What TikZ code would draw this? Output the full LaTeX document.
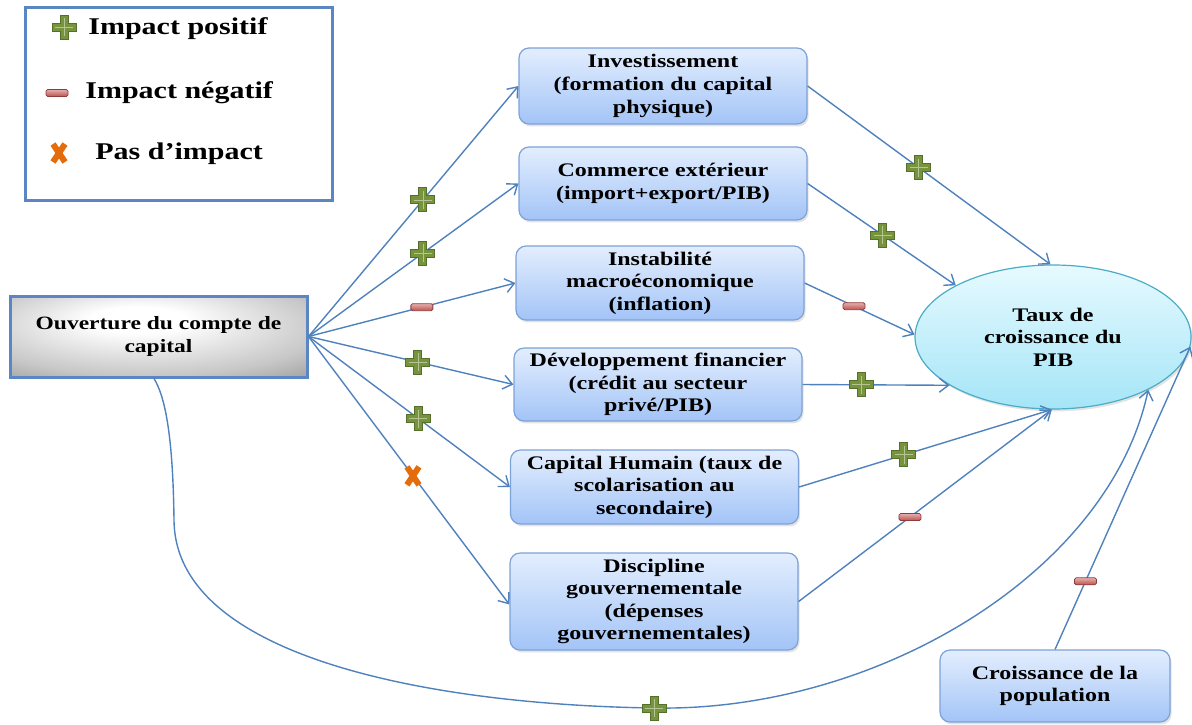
\documentclass[tikz,border=0pt]{standalone}
\usepackage{fontspec}
\setmainfont{Liberation Serif}[FakeStretch=1.25]
\usetikzlibrary{arrows.meta,shapes.geometric,shadows}
\definecolor{linkblue}{HTML}{4F81BD}
\definecolor{boxborder}{HTML}{7DA2D8}
\definecolor{boxtop}{HTML}{E3EEFE}
\definecolor{boxbot}{HTML}{A3C4F7}
\definecolor{pibtop}{HTML}{E6FAFF}
\definecolor{pibbot}{HTML}{A5E5F7}
\definecolor{pibborder}{HTML}{4BACC6}
\definecolor{plusgreen}{HTML}{77933C}
\definecolor{plusdark}{HTML}{55702A}
\definecolor{minusred}{HTML}{C0504D}
\definecolor{xorange}{HTML}{E46C0A}
\definecolor{frameblue}{HTML}{5B86C4}
\definecolor{ouvgray}{HTML}{8E8E8E}
\pgfdeclareradialshading{ouvshade}{\pgfpoint{-4bp}{12bp}}{%
  color(0bp)=(white); color(8bp)=(white); color(30bp)=(black!22); color(45bp)=(ouvgray); color(60bp)=(ouvgray!85!black)}
\tikzset{
  x=0.5pt, y=-0.5pt,
  conn/.style={draw=linkblue, line width=0.7pt, -{Straight Barb[length=4.5pt,width=7pt]}},
  txt/.style={font=\fontsize{9.6}{11.3}\selectfont\bfseries, align=center, text=black},
  legtxt/.style={font=\fontsize{12}{14}\selectfont\bfseries, anchor=west, inner sep=0pt},
  shadowed/.style={drop shadow={opacity=0.22, shadow xshift=0.8pt, shadow yshift=-1.2pt}},
  midbox/.style={txt, draw=boxborder, line width=0.6pt, rounded corners=5pt,
    top color=boxtop, bottom color=boxbot, inner sep=0pt, minimum width=144pt, shadowed},
  plussym/.pic={
    \draw[-, fill=plusgreen, draw=plusdark, line width=0.5pt]
      (-4,-12) -- (4,-12) -- (4,-4) -- (12,-4) -- (12,4) -- (4,4) -- (4,12)
      -- (-4,12) -- (-4,4) -- (-12,4) -- (-12,-4) -- (-4,-4) -- cycle;
    \draw[-, draw=plusgreen!55!white, line width=0.4pt] (0,-9) -- (0,9) (-9,0) -- (9,0);
  },
  minussym/.pic={
    \draw[-, draw=minusred!75!black, line width=0.4pt, top color=minusred!45!white,
      bottom color=minusred, rounded corners=0.8pt] (-11,-3.5) rectangle (11,3.5);
  },
  nosym/.pic={
    \draw[-, draw=xorange, line width=3pt] (-6,-9) -- (6,9) (-6,9) -- (6,-9);
  }
}
\begin{document}
\begin{tikzpicture}
\useasboundingbox (0,0) rectangle (1192,724);

% legend
\node[draw=frameblue, line width=1.5pt, minimum width=153.5pt, minimum height=96.5pt, inner sep=0pt] (leg) at (178.5,103.5) {};
\pic at (64,27) {plussym};
\pic at (57,93) {minussym};
\pic at (59,153) {nosym};
\node[legtxt] (lpos) at (88,29) {Impact positif};
\node[legtxt] (lneg) at (85,93) {Impact négatif};
\node[legtxt] (lnon) at (95,154) {Pas d’impact};

% source
\node[txt, font=\fontsize{9.4}{11.3}\selectfont\bfseries, draw=frameblue, line width=1.5pt,
  shading=ouvshade, minimum width=148.5pt, minimum height=40.5pt, inner sep=0pt]
  (ouv) at (158.5,336.5) {Ouverture du compte de\\capital};

% channels
\node[midbox, minimum height=38pt] (inv) at (663,86) {Investissement\\(formation du capital\\physique)};
\node[midbox, minimum height=36.5pt] (com) at (663,183.5) {Commerce extérieur\\(import+export/PIB)};
\node[midbox, minimum height=37pt] (ins) at (660,283) {Instabilité\\macroéconomique\\(inflation)};
\node[midbox, minimum height=36.5pt] (dev) at (658,384.5) {Développement financier\\(crédit au secteur\\privé/PIB)};
\node[midbox, minimum height=37pt] (cap) at (654.5,487) {Capital Humain (taux de\\scolarisation au\\secondaire)};
\node[midbox, minimum height=48.5pt] (dis) at (654,601.5) {Discipline\\gouvernementale\\(dépenses\\gouvernementales)};

% target
\node[txt, ellipse, draw=pibborder, line width=0.6pt, top color=pibtop, bottom color=pibbot,
  minimum width=138pt, minimum height=72pt, inner sep=0pt, shadowed]
  (pib) at (1053,337) {Taux de\\croissance du\\PIB};

\node[midbox, minimum width=115pt, minimum height=36pt] (pop) at (1055,686) {Croissance de la\\population};

% connectors from source
\draw[conn] (ouv.east) -- (inv.west);
\draw[conn] (ouv.east) -- (com.west);
\draw[conn] (ouv.east) -- (ins.west);
\draw[conn] (ouv.east) -- (dev.west);
\draw[conn] (ouv.east) -- (cap.west);
\draw[conn] (ouv.east) -- ([yshift=-1.5pt]dis.west);

% connectors to target
\draw[conn] (inv.east) -- (pib.92);
\draw[conn] (com.east) -- (pib.152);
\draw[conn] (ins.east) -- (pib.179);
\draw[conn] (dev.east) -- (pib.205);
\draw[conn] (cap.east) -- (pib.269);
\draw[conn] (dis.east) -- (pib.269);
\draw[conn] (pop.north) -- (pib.356);

\coordinate (cb) at (654,708);
\draw[conn] ([xshift=-2.25pt]ouv.south) .. controls (166,398) and (173,440) .. (174,520)
  .. controls (175,660) and (440,705) .. (cb)
  .. controls (880,712) and (1110,570) .. (pib.331);

% impact marks
\path (ouv.east) -- pic[pos=0.545]{plussym} (inv.west);
\path (ouv.east) -- pic[pos=0.545]{plussym} (com.west);
\path (ouv.east) -- pic[pos=0.548]{minussym} (ins.west);
\path (ouv.east) -- pic[pos=0.534]{plussym} (dev.west);
\path (ouv.east) -- pic[pos=0.545]{plussym} (cap.west);
\path (ouv.east) -- pic[pos=0.52]{nosym} ([yshift=-1.5pt]dis.west);
\path (inv.east) -- pic[pos=0.457]{plussym} (pib.92);
\path (com.east) -- pic[pos=0.507]{plussym} (pib.152);
\path (ins.east) -- pic[pos=0.45]{minussym} (pib.179);
\path (dev.east) -- pic[pos=0.40]{plussym} (pib.205);
\path (cap.east) -- pic[pos=0.415]{plussym} (pib.269);
\path (dis.east) -- pic[pos=0.44]{minussym} (pib.269);
\path (pop.north) -- pic[pos=0.225]{minussym} (pib.356);
\pic at (cb) {plussym};
\end{tikzpicture}
\end{document}
